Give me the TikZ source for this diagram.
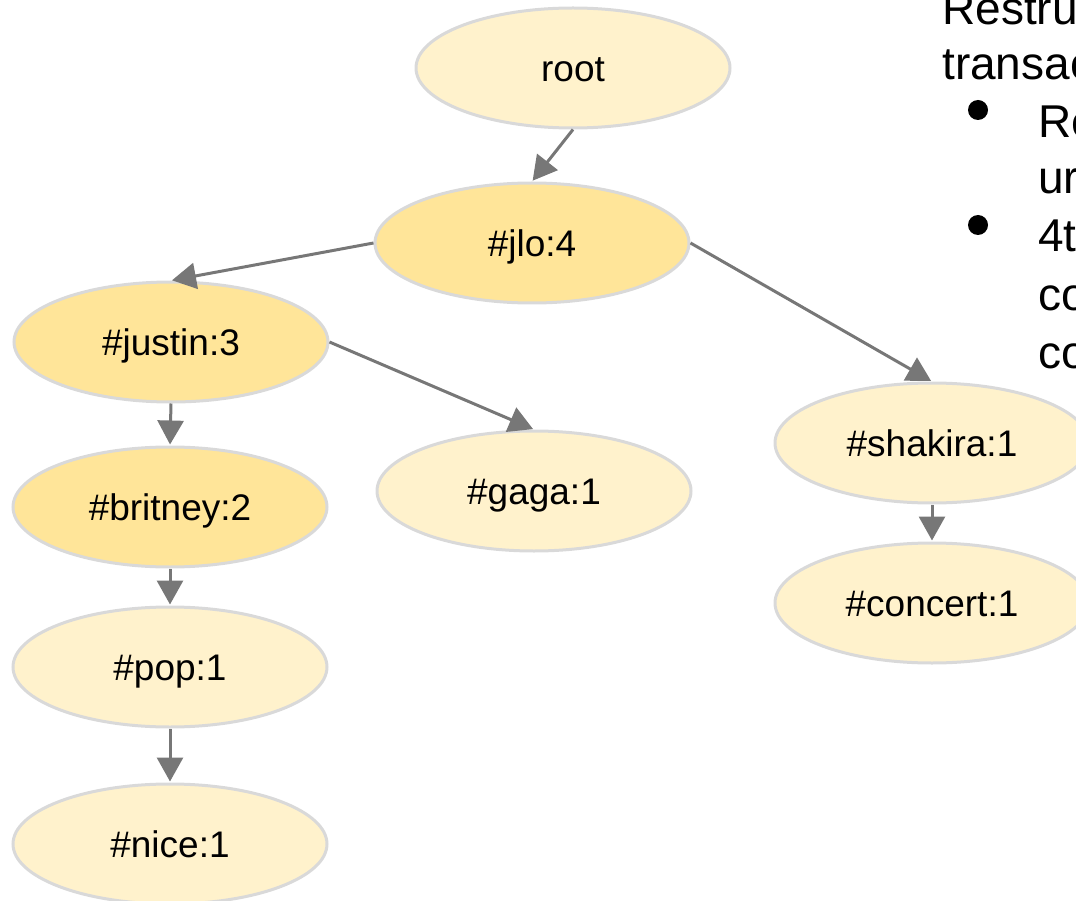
\documentclass[tikz,border=0pt]{standalone}
\usepackage{fontspec}
\setmainfont{Liberation Sans}
\usetikzlibrary{shapes.geometric,arrows.meta}
\definecolor{hot}{HTML}{FFE599}
\definecolor{cool}{HTML}{FFF2CC}
\definecolor{rim}{HTML}{D9D9D9}
\definecolor{link}{HTML}{777777}
\tikzset{
  item/.style={ellipse, draw=rim, line width=3pt, fill=cool,
    minimum width=314pt, minimum height=120pt, inner sep=0pt,
    font=\fontsize{37}{44}\selectfont, text height=27pt, text depth=0pt},
  hotitem/.style={item, fill=hot},
  edge/.style={draw=link, line width=3pt,
    -{Triangle[length=24pt,width=26pt]}, shorten >=1pt},
  slidetext/.style={anchor=base west, inner sep=0pt,
    font=\fontsize{46}{55}\selectfont},
  dot/.style={circle, fill=black, minimum size=20pt, inner sep=0pt}
}
\begin{document}
\begin{tikzpicture}[x=1pt, y=-1pt]
  \useasboundingbox (0,0) rectangle (1076,901);
  \clip (0,0) rectangle (1076,901);

  % FP-tree nodes
  \node[item]    (root)    at (573,68)  {root};
  \node[hotitem] (jlo)     at (532,243) {\#jlo:4};
  \node[hotitem] (justin)  at (171,342) {\#justin:3};
  \node[hotitem] (britney) at (170,507) {\#britney:2};
  \node[item]    (gaga)    at (534,491) {\#gaga:1};
  \node[item]    (pop)     at (170,667) {\#pop:1};
  \node[item]    (nice)    at (170,844) {\#nice:1};
  \node[item]    (shakira) at (932,443) {\#shakira:1};
  \node[item]    (concert) at (932,603) {\#concert:1};

  % parent -> child links
  \draw[edge] (root.south)   -- (jlo.north);
  \draw[edge] (jlo.west)     -- (justin.north);
  \draw[edge] (jlo.east)     -- (shakira.north);
  \draw[edge] (justin.east)  -- (gaga.north);
  \draw[edge] (justin.south) -- (britney.north);
  \draw[edge] (britney.south) -- (pop.north);
  \draw[edge] (pop.south)    -- (nice.north);
  \draw[edge] (shakira.south) -- (concert.north);

  % side notes
  \node[slidetext] (l1) at (942,25)  {Restru};
  \node[slidetext] (l2) at (942,80)  {transac};
  \node[dot]       (d1) at (978,110) {};
  \node[slidetext] (l3) at (1038,138) {Re};
  \node[slidetext] (l4) at (1038,194) {ur};
  \node[dot]       (d2) at (978,225) {};
  \node[slidetext] (l5) at (1038,252) {4t};
  \node[slidetext] (l6) at (1038,310) {co};
  \node[slidetext] (l7) at (1038,368) {co};
\end{tikzpicture}
\end{document}
